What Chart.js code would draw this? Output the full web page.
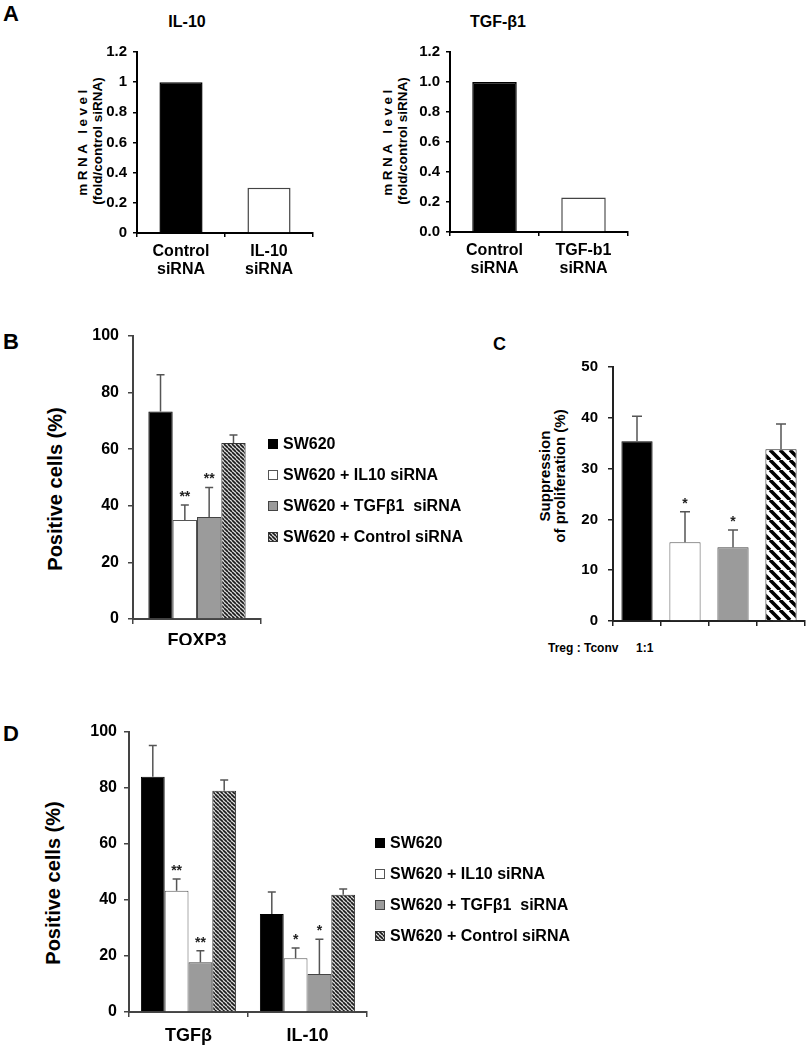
<!DOCTYPE html>
<html>
<head>
<meta charset="utf-8">
<script src="https://cdn.jsdelivr.net/npm/chart.js@4.4.0/dist/chart.umd.min.js"></script>
<style>
    body { margin: 0; width: 808px; height: 1050px; position: relative; overflow: hidden; background: #fff;
           font-family: "Liberation Sans", Arial, sans-serif; font-weight: bold; color: #000; }
    canvas.chart { position: absolute; }
    .lbl { position: absolute; line-height: 1; white-space: pre; }
    .vt { position: absolute; transform: translate(-50%, -50%) rotate(-90deg); text-align: center; white-space: nowrap; }
    .legend { position: absolute; font-size: 16px; }
    .legend .item { display: flex; align-items: center; white-space: pre; }
    .legend canvas { margin-right: 5px; }
</style>
</head>
<body>

<div class="lbl" style="left:3px;top:3px;font-size:22px">A</div>
<div class="lbl" style="left:137px;top:14px;width:100px;text-align:center;font-size:16px">IL-10</div>
<div class="lbl" style="left:448px;top:14px;width:100px;text-align:center;font-size:16px">TGF-β1</div>
<div class="vt" style="left:90px;top:141px;font-size:13.5px;line-height:15px"><span style="letter-spacing:3.5px">mRNA level</span><br>(fold/control siRNA)</div>
<div class="vt" style="left:395px;top:141px;font-size:13.5px;line-height:15px"><span style="letter-spacing:3.5px">mRNA level</span><br>(fold/control siRNA)</div>
<canvas class="chart" id="cA1" width="265" height="290" style="left:60px;top:0"></canvas>
<canvas class="chart" id="cA2" width="270" height="290" style="left:372px;top:0"></canvas>

<div class="lbl" style="left:3px;top:331px;font-size:22px">B</div>
<div class="vt" style="left:55px;top:489px;font-size:20px">Positive cells (%)</div>
<canvas class="chart" id="cB" width="250" height="345" style="left:20px;top:300px"></canvas>
<div class="legend" id="legB" style="left:268px;top:428px"></div>

<div class="lbl" style="left:493px;top:335px;font-size:18px">C</div>
<div class="vt" style="left:552px;top:476px;font-size:15px;line-height:15px">Suppression<br>of proliferation (%)</div>
<canvas class="chart" id="cC" width="295" height="340" style="left:520px;top:300px"></canvas>
<div class="lbl" style="left:548px;top:642px;font-size:12px">Treg : Tconv</div>
<div class="lbl" style="left:636px;top:642px;font-size:12px">1:1</div>

<div class="lbl" style="left:3px;top:723px;font-size:22px">D</div>
<div class="vt" style="left:53px;top:883px;font-size:20px">Positive cells (%)</div>
<canvas class="chart" id="cD" width="360" height="360" style="left:15px;top:690px"></canvas>
<div class="legend" id="legD" style="left:375px;top:827px"></div>

<script>
// A: mRNA level after knockdown (fold / control siRNA)
const catsIL10 = [["Control", "siRNA"], ["IL-10", "siRNA"]];
const mrnaIL10 = [1.0, 0.3];
const catsTGF = [["Control", "siRNA"], ["TGF-b1", "siRNA"]];
const mrnaTGF = [1.0, 0.23];

// group names used in B, C and D
const groups = ["SW620", "SW620 + IL10 siRNA", "SW620 + TGFβ1  siRNA", "SW620 + Control siRNA"];

// B: FOXP3 positive cells (%)
const catsB = ["FOXP3"];
const foxp3Mean = [73.3, 35.0, 36.0, 62.2];
const foxp3Err = [13.0, 5.3, 10.5, 2.8];
const foxp3Stars = ["", "**", "**", ""];

// C: suppression of proliferation (%), Treg:Tconv 1:1
const supMean = [35.4, 15.5, 14.5, 33.8];
const supErr = [4.9, 6.0, 3.4, 5.0];
const supStars = ["", "*", "*", ""];

// D: TGFβ / IL-10 positive cells (%)
const catsD = ["TGFβ", "IL-10"];
const dSW620 = [84.0, 35.0];
const dIL10 = [43.3, 19.2];
const dTGF = [17.8, 13.6];
const dCtrl = [79.0, 41.9];
const dSW620Err = [11.2, 7.9];
const dIL10Err = [4.2, 3.7];
const dTGFErr = [4.1, 12.4];
const dCtrlErr = [3.9, 2.0];
const dIL10Stars = ["**", "*"];
const dTGFStars = ["**", "*"];

Chart.defaults.font.family = '"Liberation Sans", Arial, sans-serif';
Chart.defaults.font.weight = "bold";
Chart.defaults.color = "#000";
Chart.defaults.animation = false;
Chart.defaults.plugins.legend.display = false;
Chart.defaults.plugins.tooltip.enabled = false;

function hatch(ctx, size, lw, fg, bg) {
    const tile = document.createElement("canvas");
    tile.width = tile.height = size;
    const g = tile.getContext("2d");
    g.fillStyle = bg;
    g.fillRect(0, 0, size, size);
    g.strokeStyle = fg;
    g.lineWidth = lw;
    g.beginPath();
    for (const o of [-size, 0, size]) { g.moveTo(o, 0); g.lineTo(o + size, size); }
    g.stroke();
    return ctx.createPattern(tile, "repeat");
}

// bar looks for the four groups
const looks = [
    { fill: () => "#000", border: "#000" },
    { fill: () => "#fff", border: "#555" },
    { fill: () => "#9b9b9b", border: "#444" },
    { fill: ctx => hatch(ctx, 4, 1.6, "#1a1a1a", "#dcdcdc"), border: "#333" }
];
const looksC = [
    looks[0], looks[1], looks[2],
    { fill: ctx => hatch(ctx, 10, 3.6, "#000", "#fff"), border: "#222" }
];

// error bars (upper half only) + significance stars
const errorBars = {
    id: "errorBars",
    afterDatasetsDraw(chart, args, opts) {
        const ctx = chart.ctx, y = chart.scales.y;
        chart.data.datasets.forEach((ds, i) => {
            if (!ds.err) return;
            chart.getDatasetMeta(i).data.forEach((bar, j) => {
                const e = ds.err[j];
                if (e == null) return;
                const top = y.getPixelForValue(ds.data[j] + e);
                const cap = opts.cap || 4;
                ctx.save();
                ctx.strokeStyle = "#555";
                ctx.lineWidth = 1.5;
                ctx.beginPath();
                ctx.moveTo(bar.x, bar.y);
                ctx.lineTo(bar.x, top);
                ctx.moveTo(bar.x - cap, top);
                ctx.lineTo(bar.x + cap, top);
                ctx.stroke();
                const s = ds.stars && ds.stars[j];
                if (s) {
                    ctx.fillStyle = "#222";
                    ctx.font = 'bold 14px "Liberation Sans", Arial, sans-serif';
                    ctx.textAlign = "center";
                    ctx.textBaseline = "bottom";
                    ctx.fillText(s, bar.x, top - 1);
                }
                ctx.restore();
            });
        });
    }
};

// fixed plot area: L,T,R,B are the chart area edges inside the canvas
function axes(o) {
    const grid = { drawOnChartArea: false, drawTicks: true, tickLength: o.tick, color: o.color, lineWidth: 1.5 };
    const border = { display: true, color: o.color, width: 2 };
    return {
        x: {
            grid: { ...grid },
            border,
            ticks: { display: o.xFont > 0, font: { size: o.xFont || 12, lineHeight: o.xLH || 1.2 },
                     padding: o.xPad || 0, maxRotation: 0, autoSkip: false },
            afterFit: s => { s.height = o.H - o.B; }
        },
        y: {
            min: o.min, max: o.max,
            grid: { ...grid },
            border,
            ticks: { stepSize: o.step, font: { size: o.yFont }, padding: o.yPad, callback: o.fmt },
            afterFit: s => { s.width = o.L; }
        }
    };
}

function layoutFor(o) {
    return { padding: { top: o.T, left: 0, right: o.W - o.R, bottom: 0 } };
}

function buildLegend(el, chart, lookList, rowH) {
    chart.data.datasets.forEach((ds, i) => {
        const row = document.createElement("div");
        row.className = "item";
        row.style.height = rowH + "px";
        const sw = document.createElement("canvas");
        sw.width = sw.height = 10;
        const g = sw.getContext("2d");
        g.fillStyle = lookList[i].fill(g);
        g.fillRect(0, 0, 10, 10);
        g.strokeStyle = lookList[i].border;
        g.lineWidth = 1;
        g.strokeRect(0.5, 0.5, 9, 9);
        const txt = document.createElement("span");
        txt.textContent = ds.label;
        row.appendChild(sw);
        row.appendChild(txt);
        el.appendChild(row);
    });
}

// ---- A left: IL-10
const oA1 = { W: 265, H: 290, L: 77, T: 52, R: 253, B: 233, min: 0, max: 1.2, step: 0.2, tick: 4,
              color: "#000", yFont: 15, yPad: 6, xFont: 16, xLH: "18px", xPad: 6,
              fmt: v => String(+v.toFixed(1)) };
new Chart(document.getElementById("cA1"), {
    type: "bar",
    data: {
        labels: catsIL10,
        datasets: [{ data: mrnaIL10, backgroundColor: ["#000", "#fff"], borderColor: ["#000", "#444"],
                     borderWidth: 1.5, categoryPercentage: 1, barPercentage: 0.49 }]
    },
    options: { responsive: false, layout: layoutFor(oA1), scales: axes(oA1) }
});

// ---- A right: TGF-β1
const oA2 = { W: 270, H: 290, L: 78, T: 52, R: 256, B: 232, min: 0, max: 1.2, step: 0.2, tick: 4,
              color: "#000", yFont: 15, yPad: 6, xFont: 16, xLH: "18px", xPad: 6,
              fmt: v => v.toFixed(1) };
new Chart(document.getElementById("cA2"), {
    type: "bar",
    data: {
        labels: catsTGF,
        datasets: [{ data: mrnaTGF, backgroundColor: ["#000", "#fff"], borderColor: ["#000", "#444"],
                     borderWidth: 1.5, categoryPercentage: 1, barPercentage: 0.5 }]
    },
    options: { responsive: false, layout: layoutFor(oA2), scales: axes(oA2) }
});

// ---- B: FOXP3
const oB = { W: 250, H: 345, L: 113, T: 36, R: 241, B: 319, min: 0, max: 100, step: 20, tick: 5,
             color: "#444", yFont: 16, yPad: 9, xFont: 18, xPad: 6 };
const ctxB = document.getElementById("cB").getContext("2d");
const chartB = new Chart(ctxB, {
    type: "bar",
    data: {
        labels: catsB,
        datasets: groups.map((g, i) => ({
            label: g, data: [foxp3Mean[i]], err: [foxp3Err[i]], stars: [foxp3Stars[i]],
            backgroundColor: looks[i].fill(ctxB), borderColor: looks[i].border, borderWidth: 1,
            categoryPercentage: 0.76, barPercentage: 1
        }))
    },
    options: { responsive: false, layout: layoutFor(oB), scales: axes(oB), plugins: { errorBars: { cap: 4 } } },
    plugins: [errorBars]
});
buildLegend(document.getElementById("legB"), chartB, looks, 31);

// ---- C: suppression of proliferation
const oC = { W: 295, H: 340, L: 93, T: 67, R: 285, B: 322, min: 0, max: 50, step: 10, tick: 5,
             color: "#222", yFont: 15, yPad: 10, xFont: 0 };
const ctxC = document.getElementById("cC").getContext("2d");
new Chart(ctxC, {
    type: "bar",
    data: {
        labels: groups,
        datasets: [{
            data: supMean, err: supErr, stars: supStars,
            backgroundColor: looksC.map(l => l.fill(ctxC)), borderColor: looksC.map(l => l.border),
            borderWidth: 1, categoryPercentage: 1, barPercentage: 0.65
        }]
    },
    options: { responsive: false, layout: layoutFor(oC), scales: axes(oC), plugins: { errorBars: { cap: 5 } } },
    plugins: [errorBars]
});

// ---- D: TGFβ and IL-10
const oD = { W: 360, H: 360, L: 114, T: 42, R: 352, B: 322, min: 0, max: 100, step: 20, tick: 5,
             color: "#444", yFont: 16, yPad: 7, xFont: 18, xPad: 8 };
const ctxD = document.getElementById("cD").getContext("2d");
const seriesD = [dSW620, dIL10, dTGF, dCtrl];
const errD = [dSW620Err, dIL10Err, dTGFErr, dCtrlErr];
const starsD = [null, dIL10Stars, dTGFStars, null];
const chartD = new Chart(ctxD, {
    type: "bar",
    data: {
        labels: catsD,
        datasets: groups.map((g, i) => ({
            label: g, data: seriesD[i], err: errD[i], stars: starsD[i],
            backgroundColor: looks[i].fill(ctxD), borderColor: looks[i].border, borderWidth: 1,
            categoryPercentage: 0.8, barPercentage: 1
        }))
    },
    options: { responsive: false, layout: layoutFor(oD), scales: axes(oD), plugins: { errorBars: { cap: 4 } } },
    plugins: [errorBars]
});
buildLegend(document.getElementById("legD"), chartD, looks, 31);
</script>
</body>
</html>
